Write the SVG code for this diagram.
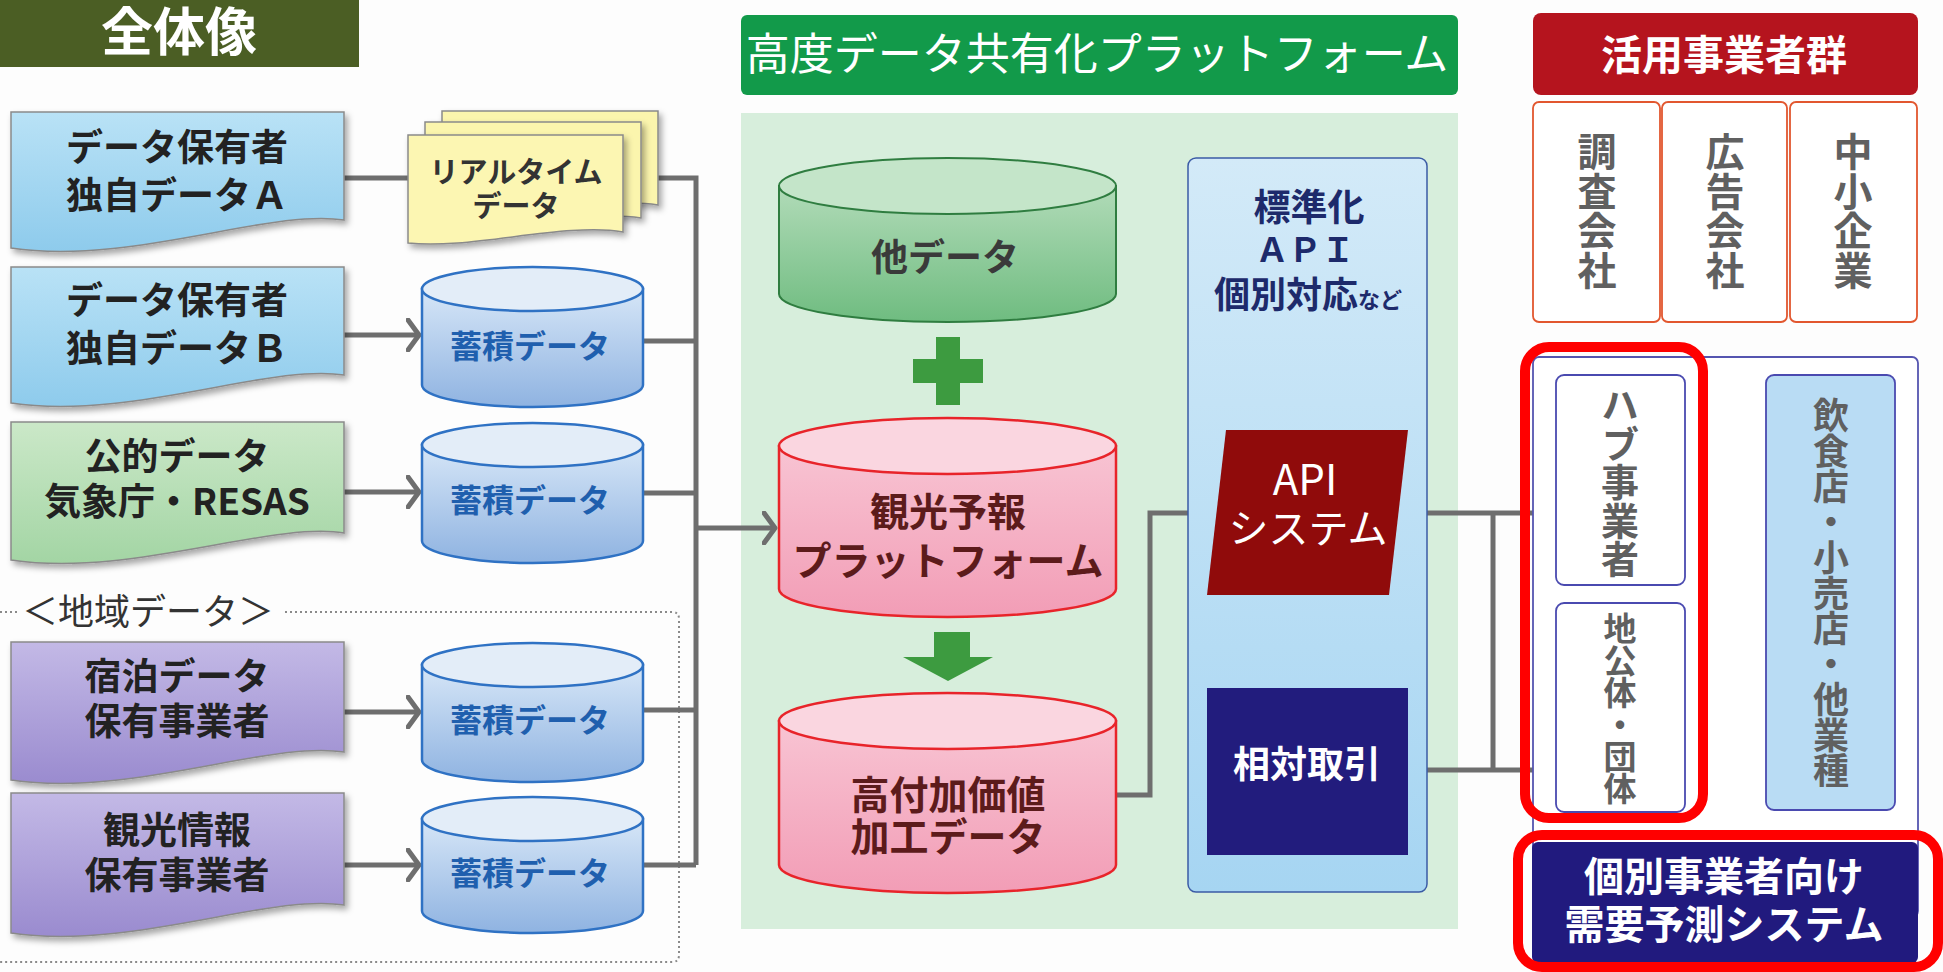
<svg xmlns="http://www.w3.org/2000/svg" width="1943" height="972" viewBox="0 0 1943 972">
<defs>
<style>
text{font-family:"Noto Sans CJK JP","Noto Sans",sans-serif;}
.nt{font-size:37px;font-weight:700;fill:#222;text-anchor:middle;}
.ct{font-size:32px;font-weight:700;fill:#1f5fae;text-anchor:middle;}
.pt{font-size:39px;font-weight:700;fill:#5c1b1b;text-anchor:middle;}
.vt{font-weight:700;fill:#606060;text-anchor:middle;writing-mode:vertical-rl;}
.wt{fill:#fff;text-anchor:middle;}
.conn{fill:none;stroke:#6e6e6e;stroke-width:5;}
.arr{marker-end:url(#chev);}
.doc{stroke:#8a8a8a;stroke-width:1.5;filter:url(#sh);}
.scyl{stroke:#2f72c4;stroke-width:2.5;}
.hl{fill:none;stroke:#ff0000;stroke-width:10;}
.pbox{fill:#fff;stroke:#4a4ab0;stroke-width:1.8;}
.obox{fill:#fff;stroke:#e2572f;stroke-width:1.8;}
</style>
<filter id="sh" x="-10%" y="-10%" width="125%" height="130%">
<feDropShadow dx="3" dy="4" stdDeviation="3" flood-color="#000" flood-opacity="0.35"/>
</filter>
<linearGradient id="gBlue" x1="0" y1="0" x2="0" y2="1"><stop offset="0" stop-color="#b9e2f6"/><stop offset="1" stop-color="#8ecbec"/></linearGradient>
<linearGradient id="gGreen" x1="0" y1="0" x2="0" y2="1"><stop offset="0" stop-color="#cbe8c8"/><stop offset="1" stop-color="#a3d5a4"/></linearGradient>
<linearGradient id="gPurple" x1="0" y1="0" x2="0" y2="1"><stop offset="0" stop-color="#c3b9e6"/><stop offset="1" stop-color="#9a8bcf"/></linearGradient>
<linearGradient id="gCylB" x1="0" y1="0" x2="0" y2="1"><stop offset="0" stop-color="#d6e6f7"/><stop offset="1" stop-color="#8fb3e1"/></linearGradient>
<linearGradient id="gCylG" x1="0" y1="0" x2="0" y2="1"><stop offset="0" stop-color="#b1dbb8"/><stop offset="1" stop-color="#6fbc80"/></linearGradient>
<linearGradient id="gCylP" x1="0" y1="0" x2="0" y2="1"><stop offset="0" stop-color="#f8c4d3"/><stop offset="1" stop-color="#f29db6"/></linearGradient>
<linearGradient id="gPanel" x1="0" y1="0" x2="0" y2="1"><stop offset="0" stop-color="#d3eaf8"/><stop offset="1" stop-color="#a6d5f2"/></linearGradient>
<marker id="chev" viewBox="0 0 16 34" refX="13" refY="17" markerWidth="16" markerHeight="34" markerUnits="userSpaceOnUse" orient="auto">
<path d="M2,2 L13,17 L2,32" fill="none" stroke="#6e6e6e" stroke-width="5" stroke-linejoin="round" stroke-linecap="round"/>
</marker>
</defs>
<rect width="1943" height="972" fill="#fdfdfd"/>

<g id="title">
<rect x="0" y="0" width="359" height="67" fill="#4b5e24"/>
<text x="179" y="51" class="wt" font-size="52" font-weight="700">全体像</text>
</g>

<g id="platform-bg">
<rect x="741" y="113" width="717" height="816" fill="#d7eedc"/>
</g>
<g id="platform-header">
<rect x="741" y="15" width="717" height="80" rx="6" fill="#129a4a"/>
<text x="1097" y="70" class="wt" font-size="44">高度データ共有化プラットフォーム</text>
</g>

<g id="region-frame">
<path d="M0,612 H18 M285,612 H672 Q679,612 679,619 V955 Q679,962 672,962 H0" fill="none" stroke="#8a8a8a" stroke-width="2" stroke-dasharray="2,3"/>
<text x="22" y="625" font-size="36" fill="#333">＜地域データ＞</text>
</g>

<g id="connectors">
<path class="conn" d="M344,178 H408"/>
<path class="conn" d="M658,178 H696 V865"/>
<path class="conn" d="M643,341 H696"/>
<path class="conn" d="M643,493 H696"/>
<path class="conn" d="M643,710 H696"/>
<path class="conn" d="M643,865 H696"/>
<path class="conn arr" d="M696,528 H775"/>
<path class="conn arr" d="M344,335 H419"/>
<path class="conn arr" d="M344,492 H419"/>
<path class="conn arr" d="M344,712 H419"/>
<path class="conn arr" d="M344,865 H419"/>
<path class="conn arr" d="M1116,795 H1150 V513 H1211"/>
<path class="conn arr" d="M1395,513 H1552"/>
<path class="conn arr" d="M1408,770 H1552"/>
<path class="conn" d="M1493,513 V770"/>
<path class="conn arr" d="M1685,513 H1761"/>
<path class="conn arr" d="M1685,770 H1761"/>
</g>

<g id="node-a">
<path class="doc" fill="url(#gBlue)" d="M11,112 H344 V220 C270,208 130,266 11,248 Z"/>
<text x="177" y="161" class="nt">データ保有者</text>
<text x="177" y="209" class="nt">独自データＡ</text>
</g>
<g id="realtime">
<path class="doc" fill="#fbf5ad" d="M442,111 H658 V205 C600,196 500,222 442,215 Z"/>
<path class="doc" fill="#fbf5ad" d="M425,122 H641 V218 C580,209 480,235 425,228 Z"/>
<path class="doc" fill="#fcf6b2" d="M408,135 H623 V232 C565,222 470,250 408,243 Z"/>
<text x="516" y="183" font-size="29" font-weight="700" fill="#333" text-anchor="middle">リアルタイム</text>
<text x="516" y="217" font-size="29" font-weight="700" fill="#333" text-anchor="middle">データ</text>
</g>
<g id="node-b">
<path class="doc" fill="url(#gBlue)" d="M11,267 H344 V375 C270,363 130,421 11,403 Z"/>
<text x="177" y="314" class="nt">データ保有者</text>
<text x="177" y="362" class="nt">独自データＢ</text>
</g>
<g id="node-c">
<path class="doc" fill="url(#gGreen)" d="M11,422 H344 V533 C270,521 130,578 11,560 Z"/>
<text x="177" y="470" class="nt">公的データ</text>
<text x="177" y="515" class="nt">気象庁・RESAS</text>
</g>
<g id="node-d">
<path class="doc" fill="url(#gPurple)" d="M11,642 H344 V752 C270,740 130,798 11,780 Z"/>
<text x="177" y="690" class="nt">宿泊データ</text>
<text x="177" y="735" class="nt">保有事業者</text>
</g>
<g id="node-e">
<path class="doc" fill="url(#gPurple)" d="M11,793 H344 V905 C270,893 130,951 11,933 Z"/>
<text x="177" y="844" class="nt">観光情報</text>
<text x="177" y="889" class="nt">保有事業者</text>
</g>

<g id="cyl-1">
<path class="scyl" fill="url(#gCylB)" d="M422,289 V385 A110.5,22 0 0 0 643,385 V289 Z"/>
<ellipse class="scyl" cx="532.5" cy="289" rx="110.5" ry="22" fill="#e3edf8"/>
<text x="530" y="358" class="ct">蓄積データ</text>
</g>
<g id="cyl-2">
<path class="scyl" fill="url(#gCylB)" d="M422,445 V541 A110.5,22 0 0 0 643,541 V445 Z"/>
<ellipse class="scyl" cx="532.5" cy="445" rx="110.5" ry="22" fill="#e3edf8"/>
<text x="530" y="512" class="ct">蓄積データ</text>
</g>
<g id="cyl-3">
<path class="scyl" fill="url(#gCylB)" d="M422,665 V760 A110.5,22 0 0 0 643,760 V665 Z"/>
<ellipse class="scyl" cx="532.5" cy="665" rx="110.5" ry="22" fill="#e3edf8"/>
<text x="530" y="732" class="ct">蓄積データ</text>
</g>
<g id="cyl-4">
<path class="scyl" fill="url(#gCylB)" d="M422,819 V911 A110.5,22 0 0 0 643,911 V819 Z"/>
<ellipse class="scyl" cx="532.5" cy="819" rx="110.5" ry="22" fill="#e3edf8"/>
<text x="530" y="885" class="ct">蓄積データ</text>
</g>

<g id="other-data">
<path fill="url(#gCylG)" stroke="#2f7d40" stroke-width="2" d="M779,186 V294 A168.5,28 0 0 0 1116,294 V186 Z"/>
<ellipse cx="947.5" cy="186" rx="168.5" ry="28" fill="#c4e5c9" stroke="#2f7d40" stroke-width="2"/>
<text x="945" y="271" font-size="37" font-weight="700" fill="#3a3a3a" text-anchor="middle">他データ</text>
</g>
<g id="plus">
<rect x="913" y="359" width="70" height="24" fill="#3d9b40"/>
<rect x="936" y="337" width="24" height="68" fill="#3d9b40"/>
</g>
<g id="forecast-platform">
<path fill="url(#gCylP)" stroke="#e8242a" stroke-width="2.5" d="M779,446 V589 A168.5,28 0 0 0 1116,589 V446 Z"/>
<ellipse cx="947.5" cy="446" rx="168.5" ry="28" fill="#fad6e0" stroke="#e8242a" stroke-width="2.5"/>
<text x="948" y="526" class="pt">観光予報</text>
<text x="948" y="575" class="pt" font-size="40" font-weight="500">プラットフォーム</text>
</g>
<g id="down-arrow">
<path d="M934,632 H970 V657 H993 L948,681 L903,657 H934 Z" fill="#3d9b40"/>
</g>
<g id="value-data">
<path fill="url(#gCylP)" stroke="#e8242a" stroke-width="2.5" d="M779,721 V865 A168.5,28 0 0 0 1116,865 V721 Z"/>
<ellipse cx="947.5" cy="721" rx="168.5" ry="28" fill="#fad6e0" stroke="#e8242a" stroke-width="2.5"/>
<text x="948" y="809" class="pt">高付加価値</text>
<text x="948" y="851" class="pt">加工データ</text>
</g>

<g id="api-panel">
<rect x="1188" y="158" width="239" height="734" rx="8" fill="url(#gPanel)" stroke="#3b5ba5" stroke-width="1.5"/>
<text x="1309" y="221" font-size="37" font-weight="700" fill="#1d2a6b" text-anchor="middle">標準化</text>
<text x="1305" y="262" font-size="33" font-weight="700" fill="#1d2a6b" text-anchor="middle">ＡＰＩ</text>
<text x="1308" y="308" font-weight="700" fill="#1d2a6b" text-anchor="middle"><tspan font-size="36">個別対応</tspan><tspan font-size="22">など</tspan></text>
</g>
<g id="api-system">
<polygon points="1226,430 1408,430 1389,595 1207,595" fill="#900b0b"/>
<text x="1305" y="495" class="wt" font-size="42">API</text>
<text x="1308" y="543" class="wt" font-size="40">システム</text>
</g>
<g id="otc">
<rect x="1207" y="688" width="201" height="167" fill="#221c7d"/>
<text x="1307" y="778" class="wt" font-size="37" font-weight="700">相対取引</text>
</g>

<g id="users-header">
<rect x="1533" y="13" width="385" height="82" rx="8" fill="#b5141e"/>
<text x="1724" y="70" class="wt" font-size="41" font-weight="700">活用事業者群</text>
</g>
<g id="research">
<rect class="obox" x="1533" y="102" width="127" height="220" rx="6"/>
<text class="vt" x="1597" y="211" font-size="39" letter-spacing="0.5">調査会社</text>
</g>
<g id="ad">
<rect class="obox" x="1662" y="102" width="125" height="220" rx="6"/>
<text class="vt" x="1725" y="211" font-size="39" letter-spacing="0.5">広告会社</text>
</g>
<g id="sme">
<rect class="obox" x="1790" y="102" width="127" height="220" rx="6"/>
<text class="vt" x="1853" y="211" font-size="39" letter-spacing="0.5">中小企業</text>
</g>

<g id="users-panel">
<rect x="1533" y="357" width="385" height="560" rx="6" fill="#fff" stroke="#5555b0" stroke-width="1.8"/>
</g>
<g id="hub">
<rect class="pbox" x="1556" y="375" width="129" height="210" rx="8"/>
<text class="vt" x="1620" y="482" font-size="38" letter-spacing="0.5">ハブ事業者</text>
</g>
<g id="local-gov">
<rect class="pbox" x="1556" y="603" width="129" height="209" rx="8"/>
<text class="vt" x="1620" y="708" font-size="33" letter-spacing="-1">地公体・団体</text>
</g>
<g id="shops">
<rect x="1766" y="375" width="129" height="435" rx="8" fill="#b9dcf4" stroke="#4a4ab0" stroke-width="1.8"/>
<text class="vt" x="1831" y="593" font-size="36" fill="#555" letter-spacing="-0.5">飲食店・小売店・他業種</text>
</g>
<g id="highlight-hub">
<rect class="hl" x="1525" y="347" width="178" height="471" rx="24"/>
</g>
<g id="forecast-system">
<rect x="1532" y="842" width="386" height="121" rx="6" fill="#211a7e"/>
<text x="1724" y="891" class="wt" font-size="40" font-weight="700">個別事業者向け</text>
<text x="1724" y="939" class="wt" font-size="40" font-weight="700">需要予測システム</text>
</g>
<g id="highlight-system">
<rect class="hl" x="1518" y="835" width="420" height="132" rx="24"/>
</g>
</svg>
